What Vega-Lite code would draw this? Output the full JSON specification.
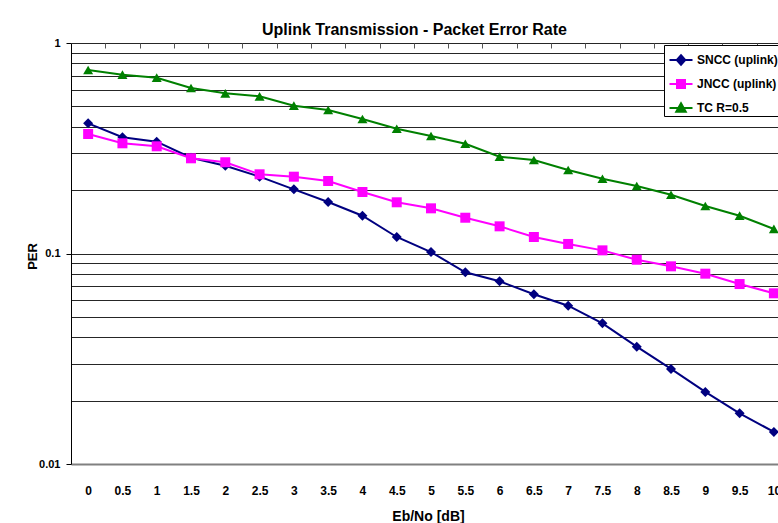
{
  "$schema": "https://vega.github.io/schema/vega-lite/v6.json",
  "width": 707,
  "height": 421,
  "autosize": {"type": "none"},
  "padding": {"left": 71, "top": 43, "right": 0, "bottom": 59},
  "background": "white",
  "config": {
    "view": {"stroke": null},
    "font": "Liberation Sans, Arial, sans-serif"
  },
  "title": {
    "text": "Uplink Transmission - Packet Error Rate",
    "font": "Liberation Sans, Arial, sans-serif",
    "fontSize": 16,
    "fontWeight": "bold",
    "color": "black",
    "anchor": "middle",
    "frame": "group",
    "baseline": "alphabetic",
    "offset": 13,
    "dx": -10,
    "dy": 27
  },
  "data": {
    "values": [
      {"x": 0, "series": "SNCC (uplink)", "per": 0.4154},
      {"x": 0.5, "series": "SNCC (uplink)", "per": 0.3565},
      {"x": 1, "series": "SNCC (uplink)", "per": 0.3398},
      {"x": 1.5, "series": "SNCC (uplink)", "per": 0.2851},
      {"x": 2, "series": "SNCC (uplink)", "per": 0.2613},
      {"x": 2.5, "series": "SNCC (uplink)", "per": 0.2317},
      {"x": 3, "series": "SNCC (uplink)", "per": 0.2018},
      {"x": 3.5, "series": "SNCC (uplink)", "per": 0.1757},
      {"x": 4, "series": "SNCC (uplink)", "per": 0.1512},
      {"x": 4.5, "series": "SNCC (uplink)", "per": 0.1198},
      {"x": 5, "series": "SNCC (uplink)", "per": 0.1016},
      {"x": 5.5, "series": "SNCC (uplink)", "per": 0.0814},
      {"x": 6, "series": "SNCC (uplink)", "per": 0.0738},
      {"x": 6.5, "series": "SNCC (uplink)", "per": 0.064},
      {"x": 7, "series": "SNCC (uplink)", "per": 0.0565},
      {"x": 7.5, "series": "SNCC (uplink)", "per": 0.0466},
      {"x": 8, "series": "SNCC (uplink)", "per": 0.0361},
      {"x": 8.5, "series": "SNCC (uplink)", "per": 0.0283},
      {"x": 9, "series": "SNCC (uplink)", "per": 0.022},
      {"x": 9.5, "series": "SNCC (uplink)", "per": 0.0174},
      {"x": 10, "series": "SNCC (uplink)", "per": 0.0142},
      {"x": 0, "series": "JNCC (uplink)", "per": 0.3695},
      {"x": 0.5, "series": "JNCC (uplink)", "per": 0.3338},
      {"x": 1, "series": "JNCC (uplink)", "per": 0.323},
      {"x": 1.5, "series": "JNCC (uplink)", "per": 0.2833},
      {"x": 2, "series": "JNCC (uplink)", "per": 0.2713},
      {"x": 2.5, "series": "JNCC (uplink)", "per": 0.2378},
      {"x": 3, "series": "JNCC (uplink)", "per": 0.2317},
      {"x": 3.5, "series": "JNCC (uplink)", "per": 0.221},
      {"x": 4, "series": "JNCC (uplink)", "per": 0.1959},
      {"x": 4.5, "series": "JNCC (uplink)", "per": 0.1751},
      {"x": 5, "series": "JNCC (uplink)", "per": 0.1639},
      {"x": 5.5, "series": "JNCC (uplink)", "per": 0.1479},
      {"x": 6, "series": "JNCC (uplink)", "per": 0.1346},
      {"x": 6.5, "series": "JNCC (uplink)", "per": 0.1198},
      {"x": 7, "series": "JNCC (uplink)", "per": 0.111},
      {"x": 7.5, "series": "JNCC (uplink)", "per": 0.1035},
      {"x": 8, "series": "JNCC (uplink)", "per": 0.0934},
      {"x": 8.5, "series": "JNCC (uplink)", "per": 0.0869},
      {"x": 9, "series": "JNCC (uplink)", "per": 0.0802},
      {"x": 9.5, "series": "JNCC (uplink)", "per": 0.0716},
      {"x": 10, "series": "JNCC (uplink)", "per": 0.0647},
      {"x": 0, "series": "TC R=0.5", "per": 0.7444},
      {"x": 0.5, "series": "TC R=0.5", "per": 0.707},
      {"x": 1, "series": "TC R=0.5", "per": 0.6842},
      {"x": 1.5, "series": "TC R=0.5", "per": 0.6112},
      {"x": 2, "series": "TC R=0.5", "per": 0.5768},
      {"x": 2.5, "series": "TC R=0.5", "per": 0.5581},
      {"x": 3, "series": "TC R=0.5", "per": 0.5037},
      {"x": 3.5, "series": "TC R=0.5", "per": 0.4805},
      {"x": 4, "series": "TC R=0.5", "per": 0.4355},
      {"x": 4.5, "series": "TC R=0.5", "per": 0.3916},
      {"x": 5, "series": "TC R=0.5", "per": 0.3616},
      {"x": 5.5, "series": "TC R=0.5", "per": 0.3323},
      {"x": 6, "series": "TC R=0.5", "per": 0.2884},
      {"x": 6.5, "series": "TC R=0.5", "per": 0.2781},
      {"x": 7, "series": "TC R=0.5", "per": 0.2492},
      {"x": 7.5, "series": "TC R=0.5", "per": 0.2266},
      {"x": 8, "series": "TC R=0.5", "per": 0.2092},
      {"x": 8.5, "series": "TC R=0.5", "per": 0.1902},
      {"x": 9, "series": "TC R=0.5", "per": 0.1681},
      {"x": 9.5, "series": "TC R=0.5", "per": 0.1512},
      {"x": 10, "series": "TC R=0.5", "per": 0.1308}
    ]
  },
  "resolve": {"axis": {"x": "independent", "y": "independent"}, "scale": {"shape": "independent"}},
  "layer": [
    {
      "mark": {"type": "line", "strokeWidth": 2, "clip": false},
      "encoding": {
        "x": {
          "field": "x", "type": "quantitative",
          "scale": {"domain": [-0.25, 10.06], "nice": false, "zero": false},
          "axis": {
            "orient": "bottom",
            "values": [0, 0.5, 1, 1.5, 2, 2.5, 3, 3.5, 4, 4.5, 5, 5.5, 6, 6.5, 7, 7.5, 8, 8.5, 9, 9.5, 10],
            "labelExpr": "'' + datum.value",
            "title": "Eb/No [dB]",
            "titleFont": "Liberation Sans, Arial, sans-serif",
            "titleFontSize": 14, "titleFontWeight": "bold", "titleColor": "black",
            "titleX": 357, "titleY": 56, "titleBaseline": "alphabetic", "titleAnchor": "middle",
            "labelFont": "Liberation Sans, Arial, sans-serif",
            "labelFontSize": 12, "labelFontWeight": "bold", "labelColor": "black",
            "labelBaseline": "alphabetic", "labelPadding": 30, "labelFlush": false, "labelOverlap": false,
            "ticks": false, "tickSize": 0,
            "domainColor": "#808080", "domainWidth": 2,
            "grid": false
          }
        },
        "y": {
          "field": "per", "type": "quantitative",
          "scale": {"type": "log", "domain": [0.01, 1], "nice": false},
          "axis": {
            "orient": "left",
            "values": [0.01, 0.02, 0.03, 0.04, 0.05, 0.06, 0.07, 0.08, 0.09, 0.1, 0.2, 0.3, 0.4, 0.5, 0.6, 0.7, 0.8, 0.9, 1],
            "labelExpr": "datum.value == 1 ? '1' : datum.value == 0.1 ? '0.1' : datum.value == 0.01 ? '0.01' : ''",
            "title": "PER",
            "titleFont": "Liberation Sans, Arial, sans-serif",
            "titleFontSize": 13, "titleFontWeight": "bold", "titleColor": "black",
            "titleX": -39, "titleY": 213, "titleAngle": -90, "titleBaseline": "middle", "titleAnchor": "middle",
            "labelFont": "Liberation Sans, Arial, sans-serif",
            "labelFontSize": 11, "labelFontWeight": "bold", "labelColor": "black",
            "labelPadding": 6, "labelOverlap": false, "labelFlush": false,
            "tickSize": 5, "tickColor": "black",
            "tickOpacity": {"condition": {"test": "datum.value == 1 || datum.value == 0.1 || datum.value == 0.01", "value": 1}, "value": 0},
            "domainColor": "black", "domainWidth": 1,
            "grid": true,
            "gridColor": {"condition": {"test": "datum.value == 0.01", "value": "transparent"}, "value": "black"},
            "gridWidth": 1, "gridOpacity": 0.85
          }
        },
        "color": {
          "field": "series", "type": "nominal",
          "scale": {"domain": ["SNCC (uplink)", "JNCC (uplink)", "TC R=0.5"], "range": ["#000080", "#FF00FF", "#008000"]},
          "legend": {
            "orient": "none", "legendX": 593, "legendY": 2,
            "title": null,
            "symbolSize": 100, "symbolOpacity": 0, "symbolStrokeWidth": 0,
            "symbolOffset": 5, "labelOffset": 10,
            "labelFont": "Liberation Sans, Arial, sans-serif",
            "labelFontSize": 12, "labelFontWeight": "bold", "labelColor": "transparent", "labelLimit": 300,
            "strokeColor": "black", "fillColor": "white",
            "padding": 4, "rowPadding": 13.5
          }
        }
      }
    },
    {
      "mark": {"type": "point", "filled": true, "opacity": 1, "size": 100, "clip": false},
      "encoding": {
        "x": {
          "field": "x", "type": "quantitative",
          "axis": {
            "orient": "top",
            "values": [0.25, 0.75, 1.25, 1.75, 2.25, 2.75, 3.25, 3.75, 4.25, 4.75, 5.25, 5.75, 6.25, 6.75, 7.25, 7.75, 8.25, 8.75, 9.25, 9.75],
            "labels": false, "title": null, "domain": false, "grid": false,
            "minExtent": 0, "maxExtent": 0,
            "ticks": true, "tickSize": -5, "tickColor": "#555555", "tickWidth": 1
          }
        },
        "y": {"field": "per", "type": "quantitative", "axis": null},
        "color": {
          "field": "series", "type": "nominal",
          "legend": {
            "orient": "none", "legendX": 593, "legendY": 2,
            "title": null,
            "symbolSize": 100, "symbolOpacity": 0, "symbolStrokeWidth": 0,
            "symbolOffset": 5, "labelOffset": 10,
            "labelFont": "Liberation Sans, Arial, sans-serif",
            "labelFontSize": 12, "labelFontWeight": "bold", "labelColor": "transparent", "labelLimit": 300,
            "strokeColor": "black", "fillColor": "white",
            "padding": 4, "rowPadding": 13.5
          }
        },
        "shape": {
          "field": "series", "type": "nominal",
          "scale": {"domain": ["SNCC (uplink)", "JNCC (uplink)", "TC R=0.5"], "range": ["diamond", "square", "triangle-up"]},
          "legend": null
        }
      }
    },
    {
      "mark": {"type": "point", "filled": true, "opacity": 0, "size": 100},
      "encoding": {
        "x": {"field": "x", "type": "quantitative", "axis": null},
        "y": {"field": "per", "type": "quantitative", "axis": null},
        "color": {
          "field": "series", "type": "nominal",
          "legend": {
            "orient": "none", "legendX": 593, "legendY": 2,
            "title": null,
            "symbolSize": 100, "symbolOpacity": 0, "symbolStrokeWidth": 0,
            "symbolOffset": 5, "labelOffset": 10,
            "labelFont": "Liberation Sans, Arial, sans-serif",
            "labelFontSize": 12, "labelFontWeight": "bold", "labelColor": "transparent", "labelLimit": 300,
            "strokeColor": "black", "fillColor": "white",
            "padding": 4, "rowPadding": 13.5
          }
        },
        "fill": {
          "field": "series", "type": "nominal",
          "scale": {"domain": ["SNCC (uplink)"], "range": ["#000080"]},
          "legend": {
            "orient": "none", "legendX": 593, "legendY": 11,
            "title": null,
            "symbolType": "M-2.3,0H2.3M0,-0.95L0.85,0L0,0.95L-0.85,0Z",
            "symbolSize": 100, "symbolStrokeWidth": 2, "symbolOpacity": 1,
            "symbolFillColor": "#000080", "symbolStrokeColor": "#000080",
            "symbolOffset": 11, "labelOffset": 10,
            "labelFont": "Liberation Sans, Arial, sans-serif",
            "labelFontSize": 12, "labelFontWeight": "bold", "labelColor": "black", "labelLimit": 300,
            "padding": 0
          }
        },
        "stroke": {
          "field": "series", "type": "nominal",
          "scale": {"domain": ["JNCC (uplink)"], "range": ["#FF00FF"]},
          "legend": {
            "orient": "none", "legendX": 593, "legendY": 35,
            "title": null,
            "symbolType": "M-2.3,0H2.3M-0.8,-0.8H0.8V0.8H-0.8Z",
            "symbolSize": 100, "symbolStrokeWidth": 2, "symbolOpacity": 1,
            "symbolFillColor": "#FF00FF", "symbolStrokeColor": "#FF00FF",
            "symbolOffset": 11, "labelOffset": 10,
            "labelFont": "Liberation Sans, Arial, sans-serif",
            "labelFontSize": 12, "labelFontWeight": "bold", "labelColor": "black", "labelLimit": 300,
            "padding": 0
          }
        },
        "shape": {
          "field": "series", "type": "nominal",
          "scale": {
            "domain": ["TC R=0.5"],
            "range": ["M-2.3,0H2.3M0,-0.95L0.95,0.75H-0.95Z"]
          },
          "legend": {
            "orient": "none", "legendX": 593, "legendY": 59,
            "title": null,
            "symbolSize": 100, "symbolStrokeWidth": 2, "symbolOpacity": 1,
            "symbolFillColor": "#008000", "symbolStrokeColor": "#008000",
            "symbolOffset": 11, "labelOffset": 10,
            "labelFont": "Liberation Sans, Arial, sans-serif",
            "labelFontSize": 12, "labelFontWeight": "bold", "labelColor": "black", "labelLimit": 300,
            "padding": 0
          }
        }
      }
    }
  ]
}
